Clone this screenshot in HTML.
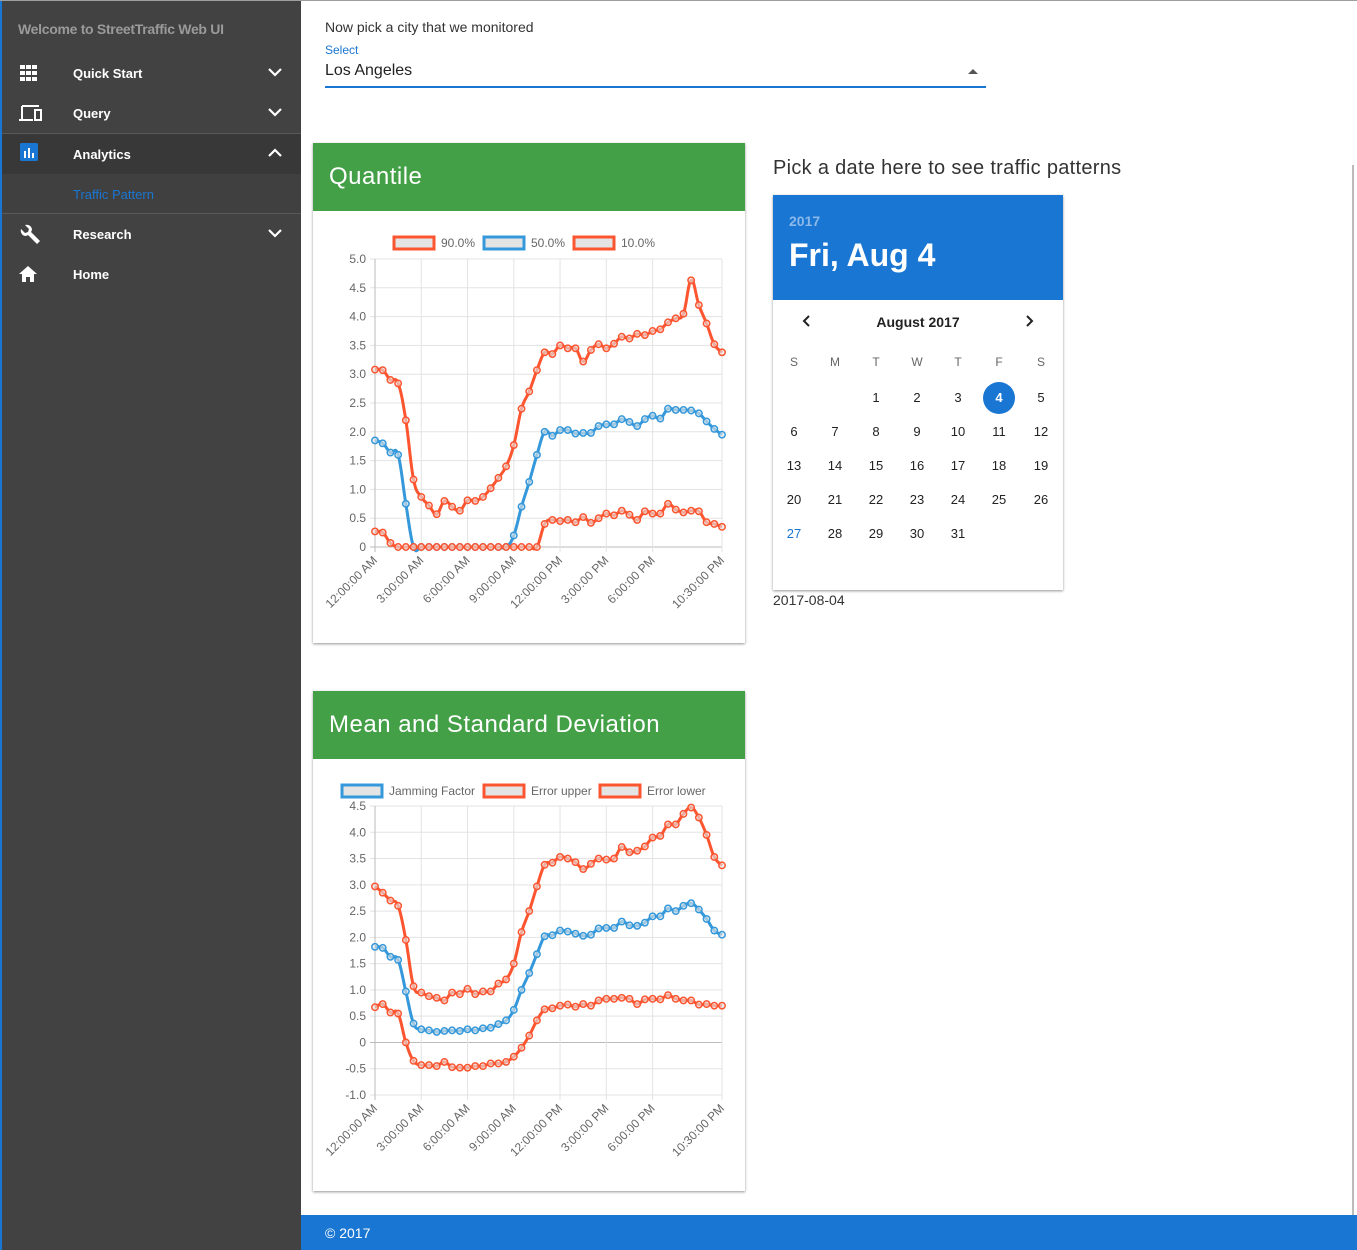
<!DOCTYPE html>
<html><head><meta charset="utf-8">
<style>
*{box-sizing:border-box;margin:0;padding:0}
body{width:1357px;height:1250px;position:relative;overflow:hidden;background:#fff;font-family:"Liberation Sans",sans-serif;}
.abs{position:absolute}
#topline{left:0;top:0;width:1357px;height:1px;background:#9e9e9e}
#sidebar{left:0;top:1px;width:301px;height:1249px;background:#424242;border-left:2px solid #1976d2}
.sb-title{left:16px;top:20px;font-size:14px;font-weight:bold;color:#9a9a9a;letter-spacing:-0.3px}
.item{left:0;width:299px;height:40px}
.item .lbl{position:absolute;left:71px;top:13px;font-size:13px;font-weight:bold;color:#fff}
.item .chev{position:absolute;left:264px;top:10px}
.item .ic{position:absolute;left:16px;top:10px}
.card{background:#fff;box-shadow:0 1px 3px rgba(0,0,0,.25),0 1px 2px rgba(0,0,0,.2)}
.card .hd{height:68px;background:#43a047;color:#fff;font-size:24px;padding:20px 16px;letter-spacing:0.5px}
.cal-day{position:absolute;width:32px;text-align:center;font-size:13px;color:#222}
</style></head><body>
<div class="abs" id="topline"></div>
<div class="abs" id="sidebar">
  <div class="abs sb-title">Welcome to StreetTraffic Web UI</div>
  <div class="abs item" style="top:52px">
    <svg class="ic" width="22" height="20"><g fill="#fff"><rect x="2" y="2" width="5" height="4"/><rect x="8" y="2" width="5" height="4"/><rect x="14" y="2" width="5" height="4"/><rect x="2" y="8" width="5" height="4"/><rect x="8" y="8" width="5" height="4"/><rect x="14" y="8" width="5" height="4"/><rect x="2" y="14" width="5" height="4"/><rect x="8" y="14" width="5" height="4"/><rect x="14" y="14" width="5" height="4"/></g></svg>
    <span class="lbl">Quick Start</span>
    <svg class="chev" width="18" height="18"><path d="M3 6l6 6 6-6" stroke="#fff" stroke-width="2.2" fill="none"/></svg>
  </div>
  <div class="abs item" style="top:92px">
    <svg class="ic" width="26" height="20"><path d="M4 3h17M4 3v13M1 17h14" stroke="#fff" stroke-width="2" fill="none"/><rect x="17" y="7" width="6" height="10" stroke="#fff" stroke-width="2" fill="none"/></svg>
    <span class="lbl">Query</span>
    <svg class="chev" width="18" height="18"><path d="M3 6l6 6 6-6" stroke="#fff" stroke-width="2.2" fill="none"/></svg>
  </div>
  <div class="abs" style="left:0;top:132px;width:299px;height:1px;background:#5a5a5a"></div>
  <div class="abs item" style="top:133px;background:#383838">
    <svg class="ic" width="22" height="22" style="left:18px;top:9px"><rect x="0" y="0" width="18" height="18" rx="1.5" fill="#1976d2"/><rect x="4" y="8" width="2" height="7" fill="#fff"/><rect x="8" y="5" width="2" height="10" fill="#fff"/><rect x="12" y="10" width="2" height="5" fill="#fff"/></svg>
    <span class="lbl">Analytics</span>
    <svg class="chev" width="18" height="18"><path d="M3 12l6-6 6 6" stroke="#fff" stroke-width="2.2" fill="none"/></svg>
  </div>
  <div class="abs" style="left:0;top:173px;width:299px;height:39px;background:#404040">
    <span class="abs" style="left:71px;top:13px;font-size:13px;color:#1976d2">Traffic Pattern</span>
  </div>
  <div class="abs" style="left:0;top:212px;width:299px;height:1px;background:#5a5a5a"></div>
  <div class="abs item" style="top:213px">
    <svg class="ic" width="24" height="24"><path d="M3 5l4 4 3-1 1-3-4-4c3-1 7 1 7 5l-1 2 9 9-3 3-9-9-2 1c-4 0-6-4-5-7z" fill="#fff"/></svg>
    <span class="lbl">Research</span>
    <svg class="chev" width="18" height="18"><path d="M3 6l6 6 6-6" stroke="#fff" stroke-width="2.2" fill="none"/></svg>
  </div>
  <div class="abs item" style="top:253px">
    <svg class="ic" width="22" height="20"><path d="M1 10L10 2l9 8h-3v8h-4v-5H8v5H4v-8z" fill="#fff"/></svg>
    <span class="lbl">Home</span>
  </div>
</div>

<div class="abs" style="left:1352px;top:165px;width:2px;height:1050px;background:#bbb"></div>

<div class="abs" style="left:325px;top:19px;font-size:14px;color:#333">Now pick a city that we monitored</div>
<div class="abs" style="left:325px;top:43px;font-size:12px;color:#1976d2">Select</div>
<div class="abs" style="left:325px;top:62px;width:661px;height:26px;border-bottom:2px solid #1976d2">
  <span style="font-size:16px;color:#222">Los Angeles</span>
  <svg class="abs" style="left:643px;top:6px" width="10" height="6"><path d="M0 6L5 1l5 5z" fill="#555"/></svg>
</div>

<div class="abs card" style="left:313px;top:143px;width:432px;height:500px">
  <div class="hd">Quantile</div>
  <svg id="chart1" class="abs" style="left:0;top:68px" width="432" height="432"></svg>
</div>
<div class="abs card" style="left:313px;top:691px;width:432px;height:500px">
  <div class="hd">Mean and Standard Deviation</div>
  <svg id="chart2" class="abs" style="left:0;top:68px" width="432" height="432"></svg>
</div>

<div class="abs" style="left:773px;top:157px;font-size:20px;color:#333;letter-spacing:0.3px">Pick a date here to see traffic patterns</div>
<div class="abs card" style="left:773px;top:195px;width:290px;height:395px">
  <div style="height:105px;background:#1976d2;position:relative">
    <div class="abs" style="left:16px;top:18px;font-size:14px;font-weight:bold;color:#8cb8ea">2017</div>
    <div class="abs" style="left:16px;top:42px;font-size:32px;font-weight:bold;color:#fff">Fri, Aug 4</div>
  </div>
  <svg class="abs" style="left:28px;top:119px" width="12" height="14"><path d="M8 2L3 7l5 5" stroke="#222" stroke-width="2" fill="none"/></svg>
  <div class="abs" style="left:0;width:290px;top:119px;text-align:center;font-size:14px;color:#222;font-weight:bold">August 2017</div>
  <svg class="abs" style="left:250px;top:119px" width="12" height="14"><path d="M4 2l5 5-5 5" stroke="#222" stroke-width="2" fill="none"/></svg>
  <div id="cal" class="abs" style="left:0;top:0;width:290px;height:395px"></div>
</div>
<div class="abs" style="left:773px;top:592px;font-size:14px;color:#333">2017-08-04</div>

<div class="abs" style="left:301px;top:1215px;width:1056px;height:35px;background:#1976d2">
  <span class="abs" style="left:24px;top:10px;font-size:14px;color:#fff">© 2017</span>
</div>

<script>
const cal=document.getElementById('cal');
const cols=[21,62,103,144,185,226,268];
['S','M','T','W','T','F','S'].forEach((d,i)=>{const e=document.createElement('div');e.className='cal-day';e.style.left=(cols[i]-16)+'px';e.style.top='160px';e.style.fontSize='12px';e.style.color='#666';e.textContent=d;


cal.appendChild(e);});
for(let d=1;d<=31;d++){const idx=d+1;const c=idx%7,r=Math.floor(idx/7);const e=document.createElement('div');e.className='cal-day';
e.style.left=(cols[c]-16)+'px';e.style.top=(195+r*34)+'px';e.style.lineHeight='16px';e.textContent=d;
if(d===4){e.style.background='#1976d2';e.style.color='#fff';e.style.borderRadius='50%';e.style.height='32px';e.style.lineHeight='32px';e.style.top=(195+r*34-8)+'px';e.style.fontWeight='bold';}
if(d===27){e.style.color='#1976d2';}


cal.appendChild(e);}
</script>
<script>
const timeLabels=['12:00:00 AM','3:00:00 AM','6:00:00 AM','9:00:00 AM','12:00:00 PM','3:00:00 PM','6:00:00 PM','10:30:00 PM'];
const labelIdx=[0,6,12,18,24,30,36,45];
const q90=[3.08,3.07,2.9,2.84,2.2,1.17,0.87,0.72,0.57,0.8,0.7,0.63,0.81,0.8,0.87,1.02,1.2,1.4,1.77,2.4,2.7,3.07,3.38,3.35,3.5,3.45,3.45,3.22,3.42,3.52,3.45,3.53,3.65,3.62,3.7,3.68,3.75,3.78,3.9,3.97,4.05,4.63,4.2,3.88,3.52,3.38];
const q50=[1.85,1.8,1.64,1.6,0.75,0,0,0,0,0,0,0,0,0,0,0,0,0,0.2,0.7,1.13,1.6,2.0,1.93,2.03,2.03,1.97,1.98,1.98,2.1,2.13,2.13,2.22,2.17,2.1,2.22,2.28,2.23,2.4,2.38,2.38,2.37,2.32,2.18,2.05,1.95];
const q10=[0.27,0.25,0.07,0,0,0,0,0,0,0,0,0,0,0,0,0,0,0,0,0,0,0,0.4,0.47,0.45,0.47,0.43,0.52,0.42,0.5,0.58,0.55,0.63,0.56,0.47,0.62,0.58,0.58,0.75,0.65,0.6,0.63,0.62,0.43,0.4,0.35];
const jam=[1.82,1.8,1.63,1.57,0.97,0.36,0.25,0.23,0.2,0.22,0.23,0.22,0.25,0.23,0.27,0.28,0.35,0.42,0.62,1.0,1.32,1.68,2.02,2.04,2.13,2.11,2.07,2.03,2.05,2.17,2.18,2.18,2.3,2.23,2.22,2.28,2.4,2.4,2.55,2.5,2.6,2.65,2.53,2.35,2.13,2.05];
const errUp=[2.97,2.85,2.7,2.6,1.95,1.07,0.95,0.88,0.85,0.8,0.95,0.92,1.02,0.92,0.97,0.97,1.12,1.2,1.5,2.1,2.5,2.97,3.38,3.42,3.53,3.5,3.43,3.3,3.4,3.5,3.48,3.5,3.72,3.62,3.65,3.73,3.9,3.93,4.15,4.15,4.35,4.47,4.28,3.95,3.53,3.37];
const errLo=[0.67,0.73,0.57,0.55,0,-0.35,-0.43,-0.43,-0.45,-0.37,-0.47,-0.48,-0.48,-0.45,-0.45,-0.4,-0.4,-0.37,-0.27,-0.1,0.13,0.42,0.63,0.65,0.7,0.72,0.68,0.73,0.7,0.8,0.83,0.83,0.85,0.83,0.73,0.82,0.83,0.82,0.9,0.83,0.8,0.8,0.72,0.73,0.7,0.7];
const ticks1=[0,0.5,1.0,1.5,2.0,2.5,3.0,3.5,4.0,4.5,5.0];
const ticks2=[-1.0,-0.5,0,0.5,1.0,1.5,2.0,2.5,3.0,3.5,4.0,4.5];
const RED='#fc5530',BLUE='#3498db';
const NS='http://www.w3.org/2000/svg';
function mk(svg,tag,at){const e=document.createElementNS(NS,tag);for(const k in at)e.setAttribute(k,at[k]);svg.appendChild(e);return e;}
function tickText(v){return v===0?'0':v.toFixed(1);}
function drawChart(id,ticks,ymin,ymax,yTop,yBot,series,legend){
  const svg=document.getElementById(id);
  const x0=62,x1=409,n=series[0].data.length;
  const xs=i=>x0+(x1-x0)*i/(n-1);
  const ys=v=>yBot-(v-ymin)/(ymax-ymin)*(yBot-yTop);
  ticks.forEach(t=>{const y=ys(t);
    const g=mk(svg,'line',{x1:x0-5,x2:x1,y1:y,y2:y,stroke:t===0?'#bbb':'#e3e3e3','stroke-width':1});
    
    
    const tx=mk(svg,'text',{x:x0-9,y:y+4,'text-anchor':'end','font-size':12,fill:'#666','font-family':'Liberation Sans'});tx.textContent=tickText(t);
    
    });
  labelIdx.forEach((li,k)=>{const x=xs(li);
    const g=mk(svg,'line',{x1:x,x2:x,y1:yTop,y2:yBot+5,stroke:k===0?'#bbb':'#e3e3e3','stroke-width':1});
    
    
    const tx=mk(svg,'text',{x:x+3,y:yBot+14,'text-anchor':'end','font-size':12,fill:'#666','font-family':'Liberation Sans',transform:`rotate(-45 ${x+3} ${yBot+14})`});tx.textContent=timeLabels[k];
    
    });
  series.forEach(s=>{
    const p=s.data.map((v,i)=>[xs(i),ys(v)]);
    let d='M'+p[0][0]+' '+p[0][1];
    for(let i=0;i<p.length-1;i++){const a=p[i-1]||p[i],b=p[i],c=p[i+1],e=p[i+2]||c;const t=0.2;
      d+=` C${b[0]+(c[0]-a[0])*t} ${b[1]+(c[1]-a[1])*t} ${c[0]-(e[0]-b[0])*t} ${c[1]-(e[1]-b[1])*t} ${c[0]} ${c[1]}`;}
    const path=mk(svg,'path',{d:d,stroke:s.color,'stroke-width':3,fill:'none'});
    
    
    p.forEach(q=>{const c=mk(svg,'circle',{cx:q[0],cy:q[1],r:3.2,stroke:s.color,'stroke-width':1.5,fill:'rgba(230,230,230,0.6)'});
      
      });
  });
  legend.forEach(l=>{
    const r=mk(svg,'rect',{x:l.x,y:l.y-6,width:40,height:12,fill:'#e4e4e4',stroke:l.color,'stroke-width':3});
    
    
    const t=mk(svg,'text',{x:l.x+47,y:l.y+4,'font-size':12,fill:'#666','font-family':'Liberation Sans'});t.textContent=l.text;
    
    });
}
drawChart('chart1',ticks1,0,5,48,336,
 [{data:q90,color:RED,name:'q90'},{data:q50,color:BLUE,name:'q50'},{data:q10,color:RED,name:'q10'}],
 [{x:81,y:32,color:RED,text:'90.0%'},{x:171,y:32,color:BLUE,text:'50.0%'},{x:261,y:32,color:RED,text:'10.0%'}]);
drawChart('chart2',ticks2,-1,4.5,47,336,
 [{data:jam,color:BLUE,name:'jamming-factor'},{data:errUp,color:RED,name:'error-upper'},{data:errLo,color:RED,name:'error-lower'}],
 [{x:29,y:32,color:BLUE,text:'Jamming Factor'},{x:171,y:32,color:RED,text:'Error upper'},{x:287,y:32,color:RED,text:'Error lower'}]);
</script>
</body></html>
